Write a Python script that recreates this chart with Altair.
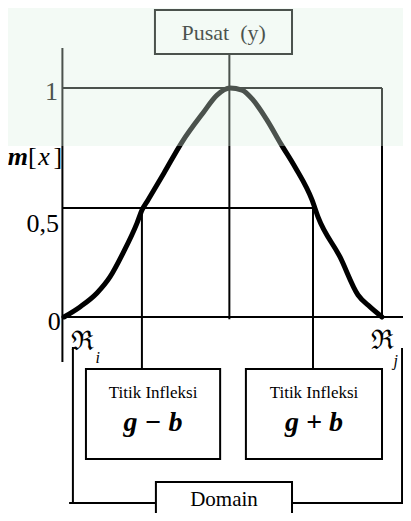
import altair as alt
import pandas as pd

# ---- data (x: domain units, Ri = 0 .. Rj = 100; y: membership degree) ----
curve_x = [0, 5.03, 10.38, 14.47, 18.55, 22.96, 24.53, 26.42, 31.45, 37.11,
           43.71, 48.11, 52.20, 55.97, 59.43, 63.84, 68.24, 72.64, 77.99, 79.87,
           86.79, 92.45, 96.23, 100]
curve_y = [0, 0.044, 0.105, 0.175, 0.279, 0.410, 0.467, 0.511, 0.629, 0.764,
           0.891, 0.969, 1.0, 0.991, 0.948, 0.860, 0.755, 0.655, 0.511, 0.437,
           0.262, 0.096, 0.044, 0]

# guide segments
seg_x1 = [-0.5, -0.5, 100, 52.0, -0.5, -0.5, 24.5, 78.3, 2.8, 1.6, 106.3, 71.7]
seg_y1 = [1.175, 1.0, 1.0, 1.148, 0.0, 0.476, 0.476, 0.476, -0.131, -0.812, -0.135, -0.812]
seg_x2 = [-0.5, 100, 100, 52.0, 109.2, 78.3, 24.5, 78.3, 2.8, 28.9, 106.3, 107.2]
seg_y2 = [-0.197, 1.0, 0.0, -0.01, 0.0, 0.476, -0.227, -0.227, -0.812, -0.812, -0.812, -0.812]

# boxes: Pusat, left inflection, right inflection, Domain
box_x1 = [28.6, 6.9, 57.2, 28.9]
box_x2 = [71.7, 49.1, 100.0, 71.7]
box_y1 = [1.341, -0.227, -0.227, -0.721]
box_y2 = [1.148, -0.620, -0.620, -0.95]

X_DOM = [-17.61, 106.60]
Y_DOM = [-0.8559, 1.3493]

SERIF = "Liberation Serif, Times New Roman, Times, serif"

xs = alt.Scale(domain=X_DOM, nice=False, zero=False)
ys = alt.Scale(domain=Y_DOM, nice=False, zero=False)

segs = pd.DataFrame({"x": seg_x1, "y": seg_y1, "x2": seg_x2, "y2": seg_y2})
boxes = pd.DataFrame({"x": box_x1, "x2": box_x2, "y": box_y1, "y2": box_y2})
curve = pd.DataFrame({"x": curve_x, "y": curve_y, "o": list(range(len(curve_x)))})

rules = alt.Chart(segs).mark_rule(color="black", strokeWidth=2).encode(
    x=alt.X("x:Q", scale=xs, axis=None), y=alt.Y("y:Q", scale=ys, axis=None),
    x2="x2:Q", y2="y2:Q")

rects = alt.Chart(boxes).mark_rect(fill="white", stroke="black", strokeWidth=2, clip=True).encode(
    x=alt.X("x:Q", scale=xs, axis=None), x2="x2:Q",
    y=alt.Y("y:Q", scale=ys, axis=None), y2="y2:Q")

line = alt.Chart(curve).mark_line(color="black", strokeWidth=5, strokeCap="round",
                                  strokeJoin="round", interpolate="monotone").encode(
    x=alt.X("x:Q", scale=xs, axis=None), y=alt.Y("y:Q", scale=ys, axis=None),
    order="o:Q")


def text_layer(labels, tx, ty, size, align="center", style="normal", weight="normal",
               font=SERIF, baseline="middle"):
    df = pd.DataFrame({"t": labels, "x": tx, "y": ty})
    return alt.Chart(df).mark_text(font=font, fontSize=size, align=align, baseline=baseline,
                                   fontStyle=style, fontWeight=weight, color="black").encode(
        x=alt.X("x:Q", scale=xs, axis=None), y=alt.Y("y:Q", scale=ys, axis=None), text="t:N")


t_pusat = text_layer(["Pusat\u2002(y)"], [50.2], [1.240], 22)
t_ticks = text_layer(["1", "0,5", "0"], [-1.9, -1.6, -1.0], [0.983, 0.406, -0.022], 26, align="right")
t_m = text_layer(["m"], [-11.3], [0.70], 26, align="right", style="italic", weight="bold")
t_bl = text_layer(["["], [-11.3], [0.70], 26, align="left")
t_br = text_layer(["]"], [-0.6], [0.70], 26, align="right")
t_xv = text_layer(["x"], [-6.3], [0.70], 26, style="italic")
t_R = text_layer(["\u211c", "\u211c"], [5.8, 100.3], [-0.109, -0.105], 27, font="DejaVu Serif")
t_sub = text_layer(["i", "j"], [10.6, 104.3], [-0.179, -0.192], 16, style="italic")
t_tit = text_layer(["Titik Infleksi", "Titik Infleksi"], [28.0, 78.6], [-0.332, -0.332], 17)
t_gb = text_layer(["g \u2212 b", "g + b"], [28.0, 78.6], [-0.463, -0.463], 28,
                  style="italic", weight="bold")
t_dom = text_layer(["Domain"], [50.3], [-0.800], 21)

tint = alt.Chart(pd.DataFrame({"x": [X_DOM[0]], "x2": [X_DOM[1]], "y": [Y_DOM[1]], "y2": [0.747]})
                 ).mark_rect(fill="#dcefe3", opacity=0.34).encode(
    x=alt.X("x:Q", scale=xs, axis=None), x2="x2:Q",
    y=alt.Y("y:Q", scale=ys, axis=None), y2="y2:Q")

chart = alt.layer(
    rules, rects, line, t_pusat, t_ticks, t_m, t_bl, t_br, t_xv, t_R, t_sub,
    t_tit, t_gb, t_dom, tint
).properties(
    width=395, height=505, padding=0,
    autosize=alt.AutoSizeParams(type="none"),
).configure_view(stroke=None)

chart.save("out.html", embed_options={"renderer": "svg", "actions": False})
